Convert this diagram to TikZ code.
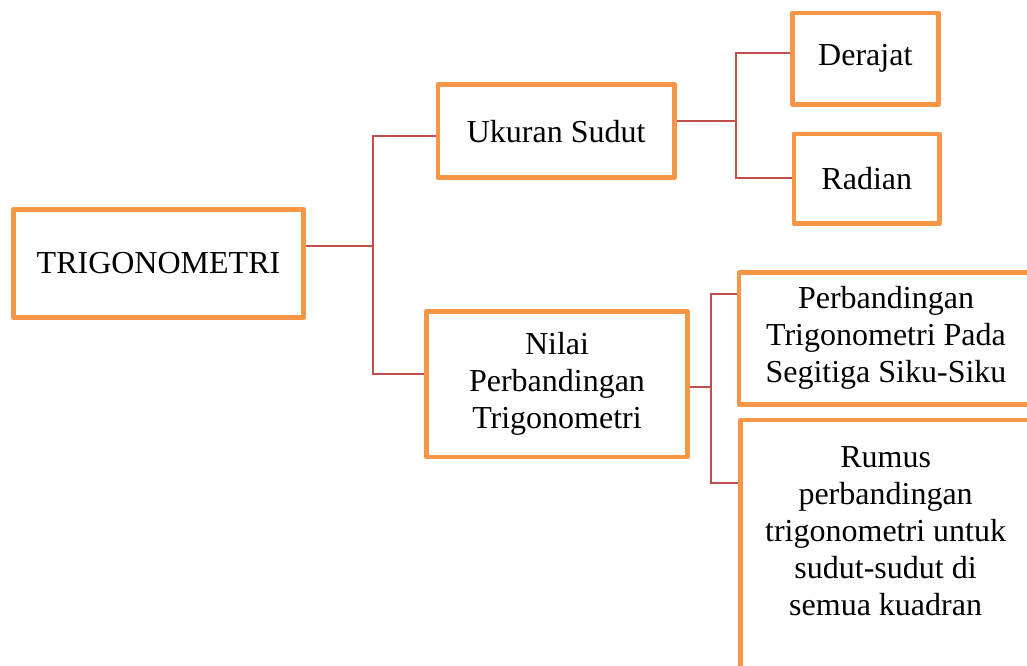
\documentclass[tikz,border=0pt]{standalone}
\usepackage{fontspec}
\setmainfont{Liberation Serif}
\definecolor{boxorange}{HTML}{F79646}
\definecolor{connred}{HTML}{C0504D}
\tikzset{
  box/.style={draw=boxorange, line width=3.5pt, line join=round, fill=white,
    inner sep=0pt, align=center, font=\fontsize{24}{27.75}\selectfont},
  conn/.style={draw=connred, line width=1.5pt}
}
\begin{document}
\begin{tikzpicture}[x=0.75pt,y=-0.75pt]
\useasboundingbox (0,0) rectangle (1027,665);
\clip (0,0) rectangle (1027,665);
\node[box, minimum width=217.8pt, minimum height=81.3pt] (trig) at (158.5,263.5) {TRIGONOMETRI};
\node[box, minimum width=177.3pt, minimum height=69.8pt] (uk) at (556.2,131.2) {Ukuran Sudut};
\node[box, minimum width=196pt, minimum height=109pt] (nilai) at (557,384.3) {Nilai\\Perbandingan\\Trigonometri};
\node[box, minimum width=109.5pt, minimum height=68.6pt] (derajat) at (865.3,58.7) {Derajat};
\node[box, minimum width=109.3pt, minimum height=67.3pt] (radian) at (866.8,178.8) {Radian};
\node[box, minimum width=220.5pt, minimum height=99pt] (perb) at (886,338.3) {Perbandingan\\Trigonometri Pada\\Segitiga Siku-Siku};
\node[box, minimum width=218pt, minimum height=195pt] (rumus) at (885.6,550) {Rumus\\perbandingan\\trigonometri untuk\\sudut-sudut di\\semua kuadran\\\mbox{}};
% connectors
\draw[conn] (trig.east |- 0,246.3) -- (372.7,246.3);
\draw[conn] (uk.west |- 0,135.7) -| (372.7,374) -- (nilai.west |- 0,374);
\draw[conn] (uk.east |- 0,121) -- (735.7,121);
\draw[conn] (derajat.west |- 0,53.3) -| (735.7,177.7) -- (radian.west |- 0,177.7);
\draw[conn] (nilai.east |- 0,386.7) -- (711,386.7);
\draw[conn] (perb.west |- 0,294) -| (711,483) -- (rumus.west |- 0,483);
\end{tikzpicture}
\end{document}
